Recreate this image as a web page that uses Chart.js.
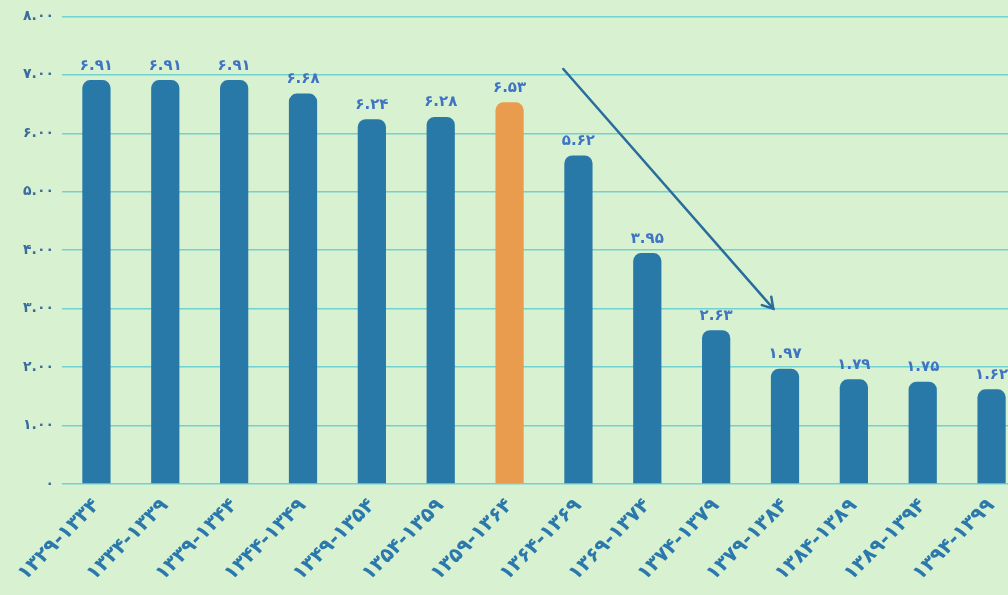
<!DOCTYPE html>
<html>
<head>
<meta charset="utf-8">
<script src="https://cdn.jsdelivr.net/npm/chart.js@4/dist/chart.umd.min.js"></script>
<style>
html,body{margin:0;padding:0;overflow:hidden;background:#d8f1d0;width:1008px;height:595px;}
#wrap{position:absolute;left:0;top:0;width:1026px;height:595px;}
</style>
</head>
<body>
<div id="wrap"><canvas id="c"></canvas></div>
<script>
const categories = ['1329-1334','1334-1339','1339-1344','1344-1349','1349-1354','1354-1359','1359-1364','1364-1369','1369-1374','1374-1379','1379-1384','1384-1389','1389-1394','1394-1399'];
const values = [6.91, 6.91, 6.91, 6.68, 6.24, 6.28, 6.53, 5.62, 3.95, 2.63, 1.97, 1.79, 1.75, 1.62];
const highlightIndex = 6;
const yTicks = [0, 1, 2, 3, 4, 5, 6, 7, 8];
const arrowFrom = {x: 6.78, y: 7.1};
const arrowTo = {x: 9.83, y: 3.0};

const fa = s => String(s).replace(/[0-9]/g, d => '۰۱۲۳۴۵۶۷۸۹'[d]);
const BAR = '#2878a8', ORANGE = '#e99c4e', GRID = '#72d2cf';

const labelsPlugin = {
  id: 'vals',
  afterDatasetsDraw(chart) {
    const ctx = chart.ctx;
    const meta = chart.getDatasetMeta(0);
    ctx.save();
    ctx.font = 'bold 15px "DejaVu Sans"';
    ctx.fillStyle = '#3f74c4';
    ctx.textAlign = 'center';
    ctx.textBaseline = 'bottom';
    meta.data.forEach((bar, i) => {
      ctx.fillText(fa(values[i].toFixed(2)), bar.x, bar.y - 7);
    });
    const xs = chart.scales.x, ys = chart.scales.y;
    const x1 = xs.getPixelForValue(arrowFrom.x), y1 = ys.getPixelForValue(arrowFrom.y);
    const x2 = xs.getPixelForValue(arrowTo.x), y2 = ys.getPixelForValue(arrowTo.y);
    ctx.strokeStyle = '#2a6c9c';
    ctx.lineWidth = 2.5;
    ctx.lineCap = 'round';
    ctx.beginPath(); ctx.moveTo(x1, y1); ctx.lineTo(x2, y2); ctx.stroke();
    const ang = Math.atan2(y2 - y1, x2 - x1), L = 12;
    ctx.beginPath();
    ctx.moveTo(x2 - L * Math.cos(ang - 0.55), y2 - L * Math.sin(ang - 0.55));
    ctx.lineTo(x2, y2);
    ctx.lineTo(x2 - L * Math.cos(ang + 0.55), y2 - L * Math.sin(ang + 0.55));
    ctx.stroke();
    ctx.restore();
  }
};

new Chart(document.getElementById('c'), {
  type: 'bar',
  data: {
    labels: categories.map(fa),
    datasets: [{
      data: values,
      backgroundColor: values.map((v, i) => i === highlightIndex ? ORANGE : BAR),
      borderRadius: {topLeft: 8, topRight: 8, bottomLeft: 0, bottomRight: 0},
      borderSkipped: false,
      categoryPercentage: 1,
      barPercentage: 0.41
    }]
  },
  options: {
    responsive: true,
    maintainAspectRatio: false,
    animation: false,
    layout: {padding: {top: 12, left: 0, right: 0, bottom: 0}},
    plugins: {legend: {display: false}, tooltip: {enabled: false}},
    scales: {
      x: {
        grid: {display: false},
        border: {display: false},
        ticks: {
          color: '#2a78ac',
          font: {family: 'DejaVu Sans', weight: 'bold', size: 20},
          minRotation: 45, maxRotation: 45, autoSkip: false, padding: 2
        },
        afterFit(s) { s.height = 111; }
      },
      y: {
        min: 0, max: 8,
        afterBuildTicks(s) { s.ticks = yTicks.map(v => ({value: v})); },
        grid: {color: GRID, lineWidth: 1.5, drawTicks: false},
        border: {display: false},
        ticks: {
          color: '#3b6c9c',
          font: {family: 'DejaVu Sans', weight: 'bold', size: 14},
          padding: 8,
          callback: v => v === 0 ? fa(0) : fa(Number(v).toFixed(2))
        },
        afterFit(s) { s.width = 62; }
      }
    }
  },
  plugins: [labelsPlugin]
});
</script>
</body>
</html>
